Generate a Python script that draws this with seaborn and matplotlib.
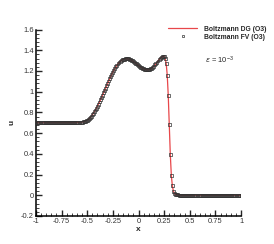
import numpy as np
import pandas as pd
import matplotlib
matplotlib.use('Agg')
import matplotlib.pyplot as plt
import seaborn as sns
from matplotlib.ticker import MultipleLocator, FuncFormatter
from matplotlib.lines import Line2D

# Solution u(x) on the grid
x_vals = [-1.00, -0.99, -0.98, -0.97, -0.96, -0.95, -0.94, -0.93, -0.92, -0.91,
          -0.90, -0.89, -0.88, -0.87, -0.86, -0.85, -0.84, -0.83, -0.82, -0.81,
          -0.80, -0.79, -0.78, -0.77, -0.76, -0.75, -0.74, -0.73, -0.72, -0.71,
          -0.70, -0.69, -0.68, -0.67, -0.66, -0.65, -0.64, -0.63, -0.62, -0.61,
          -0.60, -0.59, -0.58, -0.57, -0.56, -0.55, -0.54, -0.53, -0.52, -0.51,
          -0.50, -0.49, -0.48, -0.47, -0.46, -0.45, -0.44, -0.43, -0.42, -0.41,
          -0.40, -0.39, -0.38, -0.37, -0.36, -0.35, -0.34, -0.33, -0.32, -0.31,
          -0.30, -0.29, -0.28, -0.27, -0.26, -0.25, -0.24, -0.23, -0.22, -0.21,
          -0.20, -0.19, -0.18, -0.17, -0.16, -0.15, -0.14, -0.13, -0.12, -0.11,
          -0.10, -0.09, -0.08, -0.07, -0.06, -0.05, -0.04, -0.03, -0.02, -0.01,
          0.00, 0.01, 0.02, 0.03, 0.04, 0.05, 0.06, 0.07, 0.08, 0.09,
          0.10, 0.11, 0.12, 0.13, 0.14, 0.15, 0.16, 0.17, 0.18, 0.19,
          0.20, 0.21, 0.22, 0.23, 0.24, 0.25, 0.26, 0.27, 0.28, 0.29,
          0.30, 0.31, 0.32, 0.33, 0.34, 0.35, 0.36, 0.37, 0.38, 0.39,
          0.40, 0.41, 0.42, 0.43, 0.44, 0.45, 0.46, 0.47, 0.48, 0.49,
          0.50, 0.51, 0.52, 0.53, 0.54, 0.55, 0.56, 0.57, 0.58, 0.59,
          0.60, 0.61, 0.62, 0.63, 0.64, 0.65, 0.66, 0.67, 0.68, 0.69,
          0.70, 0.71, 0.72, 0.73, 0.74, 0.75, 0.76, 0.77, 0.78, 0.79,
          0.80, 0.81, 0.82, 0.83, 0.84, 0.85, 0.86, 0.87, 0.88, 0.89,
          0.90, 0.91, 0.92, 0.93, 0.94, 0.95, 0.96, 0.97, 0.98, 0.99,
          1.00]
u_vals = [0.700, 0.700, 0.700, 0.700, 0.700, 0.700, 0.700, 0.700, 0.700, 0.700,
          0.700, 0.700, 0.700, 0.700, 0.700, 0.700, 0.700, 0.700, 0.700, 0.700,
          0.700, 0.700, 0.700, 0.700, 0.700, 0.700, 0.700, 0.700, 0.700, 0.700,
          0.700, 0.700, 0.700, 0.700, 0.700, 0.700, 0.701, 0.701, 0.701, 0.701,
          0.702, 0.702, 0.703, 0.704, 0.705, 0.706, 0.708, 0.711, 0.714, 0.719,
          0.724, 0.731, 0.740, 0.750, 0.762, 0.775, 0.790, 0.806, 0.823, 0.841,
          0.860, 0.880, 0.900, 0.921, 0.943, 0.965, 0.988, 1.011, 1.034, 1.057,
          1.080, 1.103, 1.125, 1.147, 1.168, 1.188, 1.207, 1.225, 1.241, 1.256,
          1.269, 1.281, 1.291, 1.299, 1.306, 1.311, 1.315, 1.317, 1.318, 1.318,
          1.316, 1.313, 1.309, 1.304, 1.298, 1.291, 1.284, 1.276, 1.268, 1.260,
          1.252, 1.244, 1.237, 1.231, 1.225, 1.220, 1.216, 1.213, 1.211, 1.211,
          1.212, 1.215, 1.220, 1.227, 1.236, 1.246, 1.258, 1.270, 1.283, 1.296,
          1.309, 1.321, 1.330, 1.338, 1.342, 1.338, 1.318, 1.270, 1.160, 0.960,
          0.680, 0.390, 0.190, 0.090, 0.040, 0.018, 0.008, 0.005, 0.003, 0.002,
          0.001, 0.001, 0.000, 0.000, 0.000, 0.000, 0.000, 0.000, 0.000, 0.000,
          0.000, 0.000, 0.000, 0.000, 0.000, 0.000, 0.000, 0.000, 0.000, 0.000,
          0.000, 0.000, 0.000, 0.000, 0.000, 0.000, 0.000, 0.000, 0.000, 0.000,
          0.000, 0.000, 0.000, 0.000, 0.000, 0.000, 0.000, 0.000, 0.000, 0.000,
          0.000, 0.000, 0.000, 0.000, 0.000, 0.000, 0.000, 0.000, 0.000, 0.000,
          0.000, 0.000, 0.000, 0.000, 0.000, 0.000, 0.000, 0.000, 0.000, 0.000,
          0.000]

labels = ['Boltzmann DG (O3)', 'Boltzmann FV (O3)']
eps_text = r'$\varepsilon$ = 10$^{-3}$'

df = pd.DataFrame({'x': x_vals, 'u': u_vals})

sns.set_style('ticks')
plt.rcParams['font.family'] = ['Liberation Sans', 'DejaVu Sans']
plt.rcParams['mathtext.fontset'] = 'custom'
plt.rcParams['mathtext.rm'] = 'Liberation Sans'

fig = plt.figure(figsize=(2.74, 2.44), dpi=100)
ax = fig.add_axes([0.131, 0.115, 0.749, 0.764])

red = '#e8474a'
sns.lineplot(data=df, x='x', y='u', ax=ax, color=red, linewidth=0.9, zorder=2)
sns.scatterplot(data=df, x='x', y='u', ax=ax, marker='s', s=4.5,
                facecolor='none', edgecolor='#333333', linewidth=0.5, zorder=3)

ax.set_xlim(-1, 1)
ax.set_ylim(-0.2, 1.6)
ax.xaxis.set_major_locator(MultipleLocator(0.25))
ax.xaxis.set_minor_locator(MultipleLocator(0.05))
ax.yaxis.set_major_locator(MultipleLocator(0.2))
ax.yaxis.set_minor_locator(MultipleLocator(0.04))
fmt = FuncFormatter(lambda v, p: '%g' % round(v, 2))
ax.xaxis.set_major_formatter(fmt)
ax.yaxis.set_major_formatter(fmt)

for side in ['top', 'right']:
    ax.spines[side].set_visible(False)
for side in ['left', 'bottom']:
    ax.spines[side].set_linewidth(1.1)
    ax.spines[side].set_color('black')
ax.tick_params(which='major', direction='in', length=4, width=1.0,
               labelsize=5.4, pad=1.5, labelcolor='#333333')
ax.tick_params(which='minor', direction='in', length=2, width=0.6)

ax.set_xlabel('x', fontsize=6, fontweight='bold', labelpad=1)
ax.set_ylabel('u', fontsize=6, fontweight='bold', labelpad=4)

handles = [Line2D([], [], color=red, linewidth=0.9),
           Line2D([], [], color='#333333', marker='s', linestyle='none',
                  markersize=2.0, markerfacecolor='none', markeredgewidth=0.5)]
ax.legend(handles, labels, loc='upper left', bbox_to_anchor=(0.644, 1.02),
          frameon=False, prop={'weight': 'bold', 'size': 4.9},
          handlelength=4.3, handletextpad=1.0, labelspacing=0.15,
          borderpad=0, borderaxespad=0)
ax.text(0.824, 0.836, eps_text, transform=ax.transAxes, fontsize=5.4,
        va='center', ha='left')

fig.savefig('out.png', dpi=100)
